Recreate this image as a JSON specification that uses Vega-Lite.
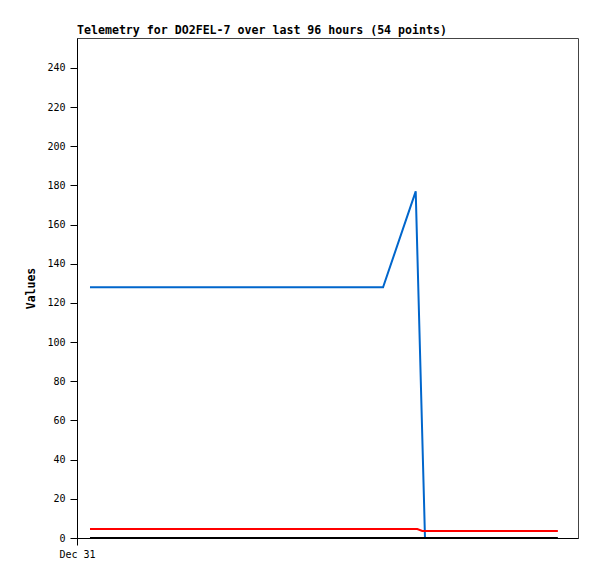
{
  "$schema": "https://vega.github.io/schema/vega-lite/v6.json",
  "autosize": "none",
  "width": 501,
  "height": 500,
  "padding": {"left": 77, "top": 38, "right": 19, "bottom": 41},
  "background": "white",
  "title": {
    "text": "Telemetry for DO2FEL-7 over last 96 hours (54 points)",
    "anchor": "start",
    "frame": "group",
    "font": "DejaVu Sans Mono",
    "fontSize": 11.6,
    "fontWeight": "bold",
    "color": "black",
    "offset": 1
  },
  "config": {
    "view": {"stroke": "#444444", "strokeWidth": 1},
    "axis": {
      "labelFont": "DejaVu Sans Mono",
      "labelFontSize": 10,
      "labelColor": "black",
      "titleFont": "DejaVu Sans Mono",
      "titleFontSize": 11.5,
      "titleFontWeight": "bold",
      "titleColor": "black",
      "domainColor": "black",
      "tickColor": "black",
      "grid": false
    }
  },
  "data": {
    "values": [
      {"series": "a", "t": "2023-12-31T02:40:00", "v": 128},
      {"series": "a", "t": "2024-01-01T12:00:00", "v": 128},
      {"series": "a", "t": "2024-01-02T14:48:00", "v": 128},
      {"series": "a", "t": "2024-01-02T21:30:00", "v": 177},
      {"series": "a", "t": "2024-01-02T23:24:00", "v": 0.5},
      {"series": "b", "t": "2023-12-31T02:40:00", "v": 4.6},
      {"series": "b", "t": "2024-01-01T12:00:00", "v": 4.6},
      {"series": "b", "t": "2024-01-02T21:50:00", "v": 4.6},
      {"series": "b", "t": "2024-01-02T22:50:00", "v": 3.6},
      {"series": "b", "t": "2024-01-03T12:00:00", "v": 3.6},
      {"series": "b", "t": "2024-01-04T02:40:00", "v": 3.6},
      {"series": "c", "t": "2023-12-31T02:40:00", "v": 0},
      {"series": "c", "t": "2024-01-02T14:48:00", "v": 0},
      {"series": "c", "t": "2024-01-04T02:40:00", "v": 0}
    ]
  },
  "mark": {"type": "line", "strokeWidth": 2, "interpolate": "linear"},
  "encoding": {
    "x": {
      "field": "t",
      "type": "temporal",
      "scale": {"domain": ["2023-12-31T00:00:00", "2024-01-04T06:48:00"]},
      "axis": {
        "title": null,
        "values": [{"year": 2023, "month": 12, "date": 31}],
        "format": "%b %d",
        "tickSize": 7,
        "labelPadding": 4,
        "labelAlign": "center"
      }
    },
    "y": {
      "field": "v",
      "type": "quantitative",
      "scale": {"domain": [0, 255.3], "nice": false, "zero": true},
      "axis": {
        "title": "Values",
        "values": [0, 20, 40, 60, 80, 100, 120, 140, 160, 180, 200, 220, 240],
        "tickSize": 7,
        "labelPadding": 5,
        "titlePadding": 10
      }
    },
    "color": {
      "field": "series",
      "type": "nominal",
      "scale": {"domain": ["a", "b", "c"], "range": ["#0066cc", "#ff0000", "#000000"]},
      "legend": null
    }
  }
}
